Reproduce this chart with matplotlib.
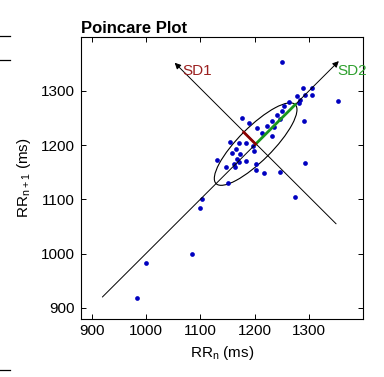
import numpy as np
import matplotlib
matplotlib.use("Agg")
import matplotlib.pyplot as plt
from matplotlib.patches import Ellipse
from matplotlib.lines import Line2D

plt.rcParams['font.family'] = ['Liberation Sans', 'DejaVu Sans']

# RR intervals (ms): RR_n and RR_{n+1}
rr_n = [1251, 1289, 1306, 1278, 1292, 1306, 1283, 1281, 1353, 1264, 1255, 1250,
        1241, 1246, 1291, 1233, 1223, 1236, 1176, 1190, 1205, 1214, 1233, 1155,
        1171, 1185, 1198, 1199, 1165, 1159, 1174, 1130, 1168, 1184, 1162, 1172,
        1148, 1164, 1203, 1202, 1217, 1246, 1292, 1151, 1274, 1104, 1100, 1001,
        1084, 983]
rr_n1 = [1354, 1306, 1306, 1291, 1292, 1293, 1284, 1278, 1282, 1280, 1273, 1263,
         1255, 1249, 1245, 1245, 1236, 1234, 1250, 1240, 1232, 1223, 1217, 1205,
         1204, 1204, 1198, 1190, 1193, 1186, 1184, 1173, 1174, 1171, 1166, 1169,
         1159, 1160, 1165, 1155, 1148, 1150, 1168, 1130, 1104, 1100, 1084, 982,
         1000, 919]

center = 1202.0   # mean RR
sd1 = 31.0
sd2 = 103.0
line_min = 920.0
line_max = 1355.0
perp_start = (1350.0, 1055.0)
perp_end = (1053.0, 1352.0)

x_ticks = [900, 1000, 1100, 1200, 1300]
y_ticks = [900, 1000, 1100, 1200, 1300]
lims = (880, 1400)

fig = plt.figure(figsize=(3.84, 3.77), dpi=100)
ax = fig.add_axes([0.210, 0.1546, 0.736, 0.748])

ax.plot(rr_n, rr_n1, 'o', color='#0000c0', markersize=3.4, markeredgewidth=0, zorder=3)

arrow_kw = dict(arrowstyle='-|>', color='black', lw=0.7, mutation_scale=9,
                shrinkA=0, shrinkB=0)
ax.annotate('', xy=(line_max, line_max), xytext=(line_min, line_min), arrowprops=arrow_kw)
ax.annotate('', xy=perp_end, xytext=perp_start, arrowprops=arrow_kw)

ell = Ellipse((center, center), width=2 * sd2, height=2 * sd1, angle=45,
              fill=False, edgecolor='black', lw=0.8, zorder=2)
ax.add_patch(ell)

d = 1 / np.sqrt(2)
ax.plot([center, center + sd2 * d], [center, center + sd2 * d], color='#1a961a', lw=2, zorder=4)
ax.plot([center, center - sd1 * d], [center, center + sd1 * d], color='#8b0000', lw=2, zorder=4)

ax.text(1067, 1337, 'SD1', color='#9b2020', fontsize=11, va='center', ha='left')
ax.text(1352, 1337, 'SD2', color='#2ea02e', fontsize=11, va='center', ha='left')

ax.set_xlim(*lims)
ax.set_ylim(*lims)
ax.set_xticks(x_ticks)
ax.set_yticks(y_ticks)
ax.tick_params(direction='in', length=3.5, width=0.7, top=True, right=True,
               labelsize=11, pad=4)
for s in ax.spines.values():
    s.set_linewidth(0.8)

ax.set_xlabel(r'RR$_\mathregular{n}$ (ms)', fontsize=11, labelpad=4)
ax.set_ylabel(r'RR$_\mathregular{n+1}$ (ms)', fontsize=11, labelpad=6)
ax.set_title('Poincare Plot', fontsize=12, fontweight='bold', loc='left', pad=3)

for yy in (36, 60, 370):
    yf = 1 - yy / 377
    fig.add_artist(Line2D([0, 10 / 384], [yf, yf], color='black', lw=0.9,
                          transform=fig.transFigure))

fig.savefig('out.png', dpi=100)
